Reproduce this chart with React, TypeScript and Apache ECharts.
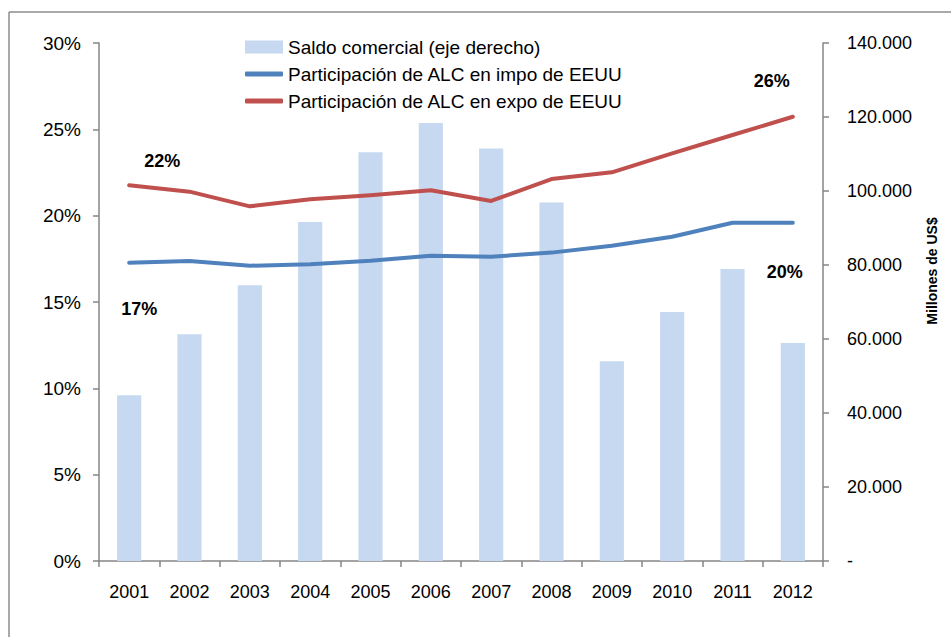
import React, { useEffect, useRef } from 'react';
import * as echarts from 'echarts';

const years = ['2001', '2002', '2003', '2004', '2005', '2006', '2007', '2008', '2009', '2010', '2011', '2012'];
const saldoComercial = [44800, 61300, 74500, 91600, 110500, 118400, 111500, 96900, 54000, 67300, 78900, 58900];
const impoShare = [17.28, 17.37, 17.1, 17.18, 17.39, 17.68, 17.62, 17.86, 18.26, 18.78, 19.59, 19.59];
const expoShare = [21.76, 21.39, 20.54, 20.95, 21.18, 21.47, 20.85, 22.12, 22.51, 23.61, 24.67, 25.73];
const seriesNames = [
  'Saldo comercial (eje derecho)',
  'Participación de ALC en impo de EEUU',
  'Participación de ALC en expo de EEUU',
];
const rightAxisName = 'Millones de US$';

const FONT = '"Liberation Sans", Arial, sans-serif';

function withEndLabels(values: number[], firstOffset: number[], lastOffset: number[]) {
  return values.map((v, i) => {
    if (i === 0 || i === values.length - 1) {
      return {
        value: v,
        label: {
          show: true,
          position: 'inside',
          offset: i === 0 ? firstOffset : lastOffset,
          formatter: (p: any) => Math.round(p.value) + '%',
          fontFamily: FONT,
          fontSize: 18,
          fontWeight: 'bold',
          color: '#000',
        },
      };
    }
    return v;
  });
}

function fmtThousands(v: number) {
  if (v === 0) return '-';
  return String(v).replace(/\B(?=(\d{3})+(?!\d))/g, '.');
}

export default function App() {
  const ref = useRef<HTMLDivElement>(null);
  useEffect(() => {
    if (!ref.current) return;
    const chart = echarts.init(ref.current, undefined, { renderer: 'svg' });
    const axisColor = '#868686';
    chart.setOption({
      animation: false,
      backgroundColor: '#fff',
      textStyle: { fontFamily: FONT },
      grid: { left: 99, right: 128, top: 43, bottom: 76, containLabel: false },
      legend: [
        {
          data: [seriesNames[0]],
          orient: 'vertical',
          left: 245,
          top: 37,
          padding: 0,
          itemWidth: 38,
          itemHeight: 13,
          itemGap: 7,
          icon: 'rect',
          textStyle: { fontFamily: FONT, fontSize: 19, color: '#000', lineHeight: 20 },
          selectedMode: false,
        },
        {
          data: [seriesNames[1], seriesNames[2]],
          orient: 'vertical',
          left: 245,
          top: 64,
          padding: 0,
          itemWidth: 38,
          itemHeight: 5,
          itemGap: 7,
          icon: 'roundRect',
          textStyle: { fontFamily: FONT, fontSize: 19, color: '#000', lineHeight: 20 },
          selectedMode: false,
        },
      ],
      xAxis: {
        type: 'category',
        data: years,
        boundaryGap: true,
        axisLine: { show: true, lineStyle: { color: axisColor, width: 1.5 } },
        axisTick: { show: true, length: 6, alignWithLabel: false, lineStyle: { color: axisColor, width: 1.5 } },
        axisLabel: { color: '#000', fontSize: 18, fontFamily: FONT, margin: 22 },
        splitLine: { show: false },
      },
      yAxis: [
        {
          type: 'value',
          min: 0,
          max: 30,
          interval: 5,
          position: 'left',
          axisLine: { show: true, lineStyle: { color: axisColor, width: 1.5 } },
          axisTick: { show: true, length: 6, lineStyle: { color: axisColor, width: 1.5 } },
          axisLabel: { color: '#000', fontSize: 19, fontFamily: FONT, margin: 18, formatter: '{value}%' },
          splitLine: { show: false },
        },
        {
          type: 'value',
          min: 0,
          max: 140000,
          interval: 20000,
          position: 'right',
          axisLine: { show: true, lineStyle: { color: axisColor, width: 1.5 } },
          axisTick: { show: true, length: 6, lineStyle: { color: axisColor, width: 1.5 } },
          axisLabel: { color: '#000', fontSize: 18, fontFamily: FONT, margin: 24, formatter: (v: number) => fmtThousands(v) },
          splitLine: { show: false },
        },
      ],
      series: [
        {
          name: seriesNames[0],
          type: 'bar',
          yAxisIndex: 1,
          data: saldoComercial,
          barWidth: '40%',
          itemStyle: { color: '#C6D9F0' },
          z: 1,
        },
        {
          name: seriesNames[1],
          type: 'line',
          yAxisIndex: 0,
          data: withEndLabels(impoShare, [10, 46], [-8, 49]),
          symbol: 'circle',
          symbolSize: 0,
          showSymbol: true,
          itemStyle: { color: '#4F81BD' },
          lineStyle: { color: '#4F81BD', width: 4, cap: 'round', join: 'round' },
          z: 3,
        },
        {
          name: seriesNames[2],
          type: 'line',
          yAxisIndex: 0,
          data: withEndLabels(expoShare, [33, -24], [-21, -36]),
          symbol: 'circle',
          symbolSize: 0,
          showSymbol: true,
          itemStyle: { color: '#C0504D' },
          lineStyle: { color: '#C0504D', width: 4, cap: 'round', join: 'round' },
          z: 3,
        },
      ],
      graphic: [
        {
          type: 'line',
          shape: { x1: 9, y1: 12, x2: 951, y2: 12 },
          style: { stroke: '#8C8C8C', lineWidth: 1.5 },
          silent: true,
        },
        {
          type: 'line',
          shape: { x1: 9, y1: 12, x2: 9, y2: 637 },
          style: { stroke: '#8C8C8C', lineWidth: 1.5 },
          silent: true,
        },
        {
          type: 'text',
          x: 932,
          y: 271,
          rotation: Math.PI / 2,
          style: {
            text: rightAxisName,
            fontFamily: FONT,
            fontSize: 14,
            fontWeight: 'bold',
            fill: '#000',
            align: 'center',
            verticalAlign: 'middle',
          },
        },
      ],
    });
    return () => chart.dispose();
  }, []);
  return (
    <div
      ref={ref}
      style={{ position: 'fixed', left: 0, top: 0, width: 951, height: 637, background: '#fff' }}
    />
  );
}
